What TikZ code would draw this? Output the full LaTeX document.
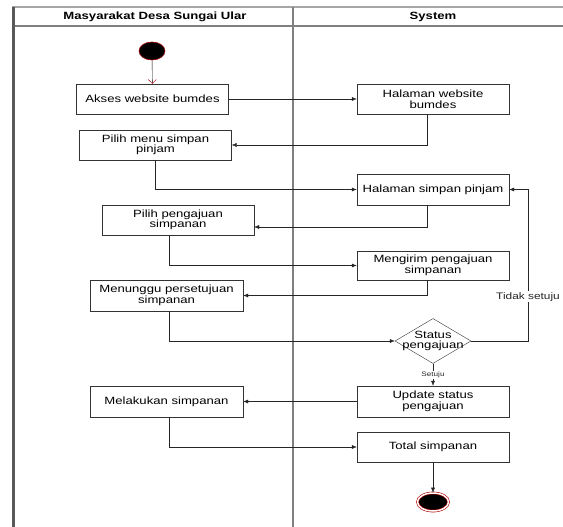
\documentclass[tikz,border=0pt]{standalone}
\usepackage{fontspec}
\setmainfont{Liberation Sans}[FakeStretch=1.25]
\usetikzlibrary{arrows.meta,shapes.geometric,shadows}

\begin{document}
\begin{tikzpicture}[
        x=1pt, y=-1pt,
        font=\fontsize{10.5}{10.5}\selectfont,
        act/.style={draw=black!80, rectangle, minimum width=152pt, minimum height=30pt, align=center, inner sep=1pt, fill=white},
        sysact/.style={act, drop shadow={shadow xshift=1pt, shadow yshift=-1pt, fill=black!70, opacity=1}},
        decision/.style={draw=black!80, diamond, minimum width=76pt, minimum height=45pt, inner sep=0pt, fill=white},
        initial/.style={ellipse, fill=black, draw=red!60!black, line width=0.6pt, minimum width=26pt, minimum height=18pt, inner sep=0pt},
        final/.style={ellipse, fill=black, draw=red!70!black, double=white, double distance=1.5pt, line width=0.6pt, minimum width=31pt, minimum height=18pt, inner sep=0pt},
        flow/.style={-{Latex[length=5pt, width=4pt]}, black!85},
        guard/.style={fill=white, inner sep=1pt},
        lane/.style={draw=black!50, line width=1.3pt}
    ]
        \useasboundingbox (0,0) rectangle (563,527);

        % swimlanes
        \draw[lane, black!35] (12,7) -- (563,7);
        \draw[lane] (12,26) -- (563,26);
        \draw[lane] (293,7) -- (293,527);
        \draw[lane, black!65, line width=3pt] (13,7) -- (13,527);
        \node[font=\bfseries\fontsize{10.5}{10.5}\selectfont] (lanewarga) at (155,16.5) {Masyarakat Desa Sungai Ular};
        \node[font=\bfseries\fontsize{10.5}{10.5}\selectfont] (lanesys) at (433,16.5) {System};

        % activities
        \node[initial] (start) at (152,51) {};
        \node[act] (akses) at (152.5,99) {Akses website bumdes};
        \node[sysact] (halweb) at (433,99) {Halaman website\\bumdes};
        \node[act] (pmenu) at (155.5,145) {Pilih menu simpan\\pinjam};
        \node[sysact, minimum height=31pt] (hsp) at (433,189.5) {Halaman simpan pinjam};
        \node[act] (ppeng) at (178,220) {Pilih pengajuan\\simpanan};
        \node[sysact, minimum height=29pt] (kirim) at (433,265.5) {Mengirim pengajuan\\simpanan};
        \node[act, minimum width=153pt, minimum height=31pt] (tunggu) at (166.5,295.5) {Menunggu persetujuan\\simpanan};
        \node[decision, label={[align=center]center:Status\\pengajuan}] (status) at (433,341) {};
        \node[sysact, minimum height=31pt] (update) at (433,401.5) {Update status\\pengajuan};
        \node[act, minimum width=153pt, minimum height=31pt] (lakukan) at (166.5,401.5) {Melakukan simpanan};
        \node[sysact] (total) at (433,447) {Total simpanan};
        \node[final] (stop) at (433,502) {};
        \coordinate (back) at (528,341);

        % flows
        \draw[-{Straight Barb[color=red!70!black, length=4pt]}] (start) -- (akses);
        \draw[flow] (akses) -- (halweb);
        \draw[flow] ([xshift=-6pt]halweb.south) |- (pmenu.east);
        \draw[flow] (pmenu.south) |- (hsp.west);
        \draw[flow] ([xshift=-6pt]hsp.south) |- ([yshift=-7pt]ppeng.east);
        \draw[flow] ([xshift=-9pt]ppeng.south) |- (kirim.west);
        \draw[flow] ([xshift=-6pt]kirim.south) |- (tunggu.east);
        \draw[flow] ([xshift=2.5pt]tunggu.south) |- (status.west);
        \draw[flow] (status.east) -- (back) |- node[guard, pos=0.146, font=\fontsize{9.5}{10}\selectfont] {Tidak setuju} (hsp.east);
        \draw[flow] (status.south) -- node[guard, font=\fontsize{6.5}{7}\selectfont] {Setuju} (update.north);
        \draw[flow] (update) -- (lakukan);
        \draw[flow] ([xshift=2.5pt]lakukan.south) |- (total.west);
        \draw[flow] (total) -- (stop);
    \end{tikzpicture}
\end{document}
